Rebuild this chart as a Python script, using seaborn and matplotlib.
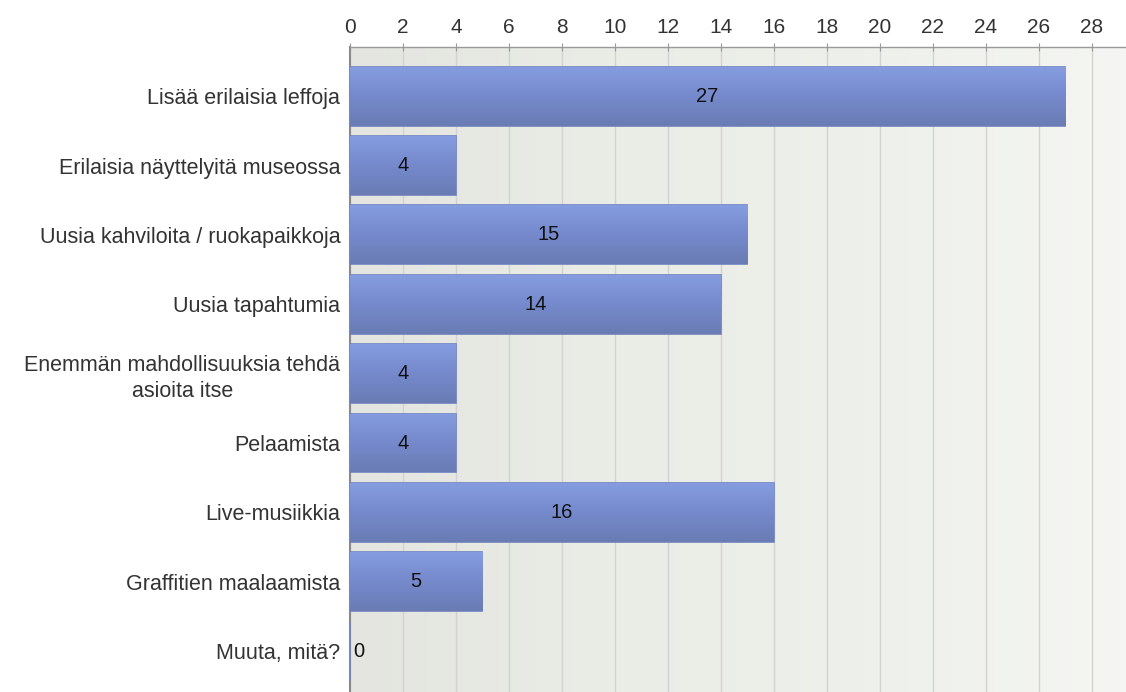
import numpy as np
import pandas as pd
import matplotlib
matplotlib.use("Agg")
import matplotlib.pyplot as plt
import seaborn as sns
from matplotlib.colors import LinearSegmentedColormap

categories = [
    "Lisää erilaisia leffoja",
    "Erilaisia näyttelyitä museossa",
    "Uusia kahviloita / ruokapaikkoja",
    "Uusia tapahtumia",
    "Enemmän mahdollisuuksia tehdä\nasioita itse",
    "Pelaamista",
    "Live-musiikkia",
    "Graffitien maalaamista",
    "Muuta, mitä?",
]
values = [27, 4, 15, 14, 4, 4, 16, 5, 0]
xticks = list(range(0, 29, 2))

sns.set_theme(style="white")
plt.rcParams["font.family"] = ["Liberation Sans", "DejaVu Sans"]

df = pd.DataFrame({"category": categories, "value": values})

fig = plt.figure(figsize=(11.26, 6.92), dpi=100)
ax = fig.add_axes([350 / 1126, 0.0, 1 - 350 / 1126, 1 - 47 / 692])

XMAX = 29.3
YLIM = (8.59, -0.71)

sns.barplot(data=df, x="value", y="category", orient="h", ax=ax,
            color="#7689c9", width=0.85, edgecolor="#6f82c0", linewidth=1.2,
            zorder=3)

# background gradient
bg = LinearSegmentedColormap.from_list("bg", ["#e4e5e0", "#eaece6", "#eef0eb", "#f5f6f3"])
grad = np.linspace(0, 1, 256).reshape(1, -1)
ax.imshow(grad, cmap=bg, aspect="auto", extent=[0, XMAX, YLIM[0], YLIM[1]],
          zorder=0, interpolation="bicubic")

# bar vertical gradients
barcmap = LinearSegmentedColormap.from_list("bar", ["#859de0", "#7589cc", "#6a7cb3"])
vgrad = np.linspace(0, 1, 256).reshape(-1, 1)
for p in list(ax.patches):
    w = p.get_width()
    if w <= 0:
        continue
    x0, y0, h = p.get_x(), p.get_y(), p.get_height()
    im = ax.imshow(vgrad, cmap=barcmap, aspect="auto",
                   extent=[x0, x0 + w, y0 + h, y0], zorder=3.5)
    im.set_clip_path(p)
ax.set_xlim(0, XMAX)
ax.set_ylim(*YLIM)

# value labels
for i, v in enumerate(values):
    xpos = v / 2 if v > 0 else 0.12
    ha = "center" if v > 0 else "left"
    ax.text(xpos, i, str(v), ha=ha, va="center", fontsize=14.5,
            color="#111111", zorder=5)

ax.set_xticks(xticks)
ax.xaxis.tick_top()
ax.xaxis.set_label_position("top")
ax.tick_params(axis="x", direction="inout", length=6, width=0.8,
               color="#999999", labelsize=15, labelcolor="#333333", pad=4)
ax.tick_params(axis="y", length=0, labelsize=15.5, labelcolor="#333333", pad=7)
for lab in ax.get_yticklabels():
    lab.set_multialignment("center")
    lab.set_linespacing(1.3)
ax.grid(axis="x", color="#d2d3d0", linewidth=1.0, zorder=1)
ax.set_axisbelow(True)
ax.set_xlabel("")
ax.set_ylabel("")

for s in ["right", "bottom"]:
    ax.spines[s].set_visible(False)
ax.spines["top"].set_color("#9a9a9a")
ax.spines["top"].set_linewidth(1.0)
ax.spines["left"].set_color("#8a8a8a")
ax.spines["left"].set_linewidth(1.5)

fig.savefig("out.png", dpi=100)
